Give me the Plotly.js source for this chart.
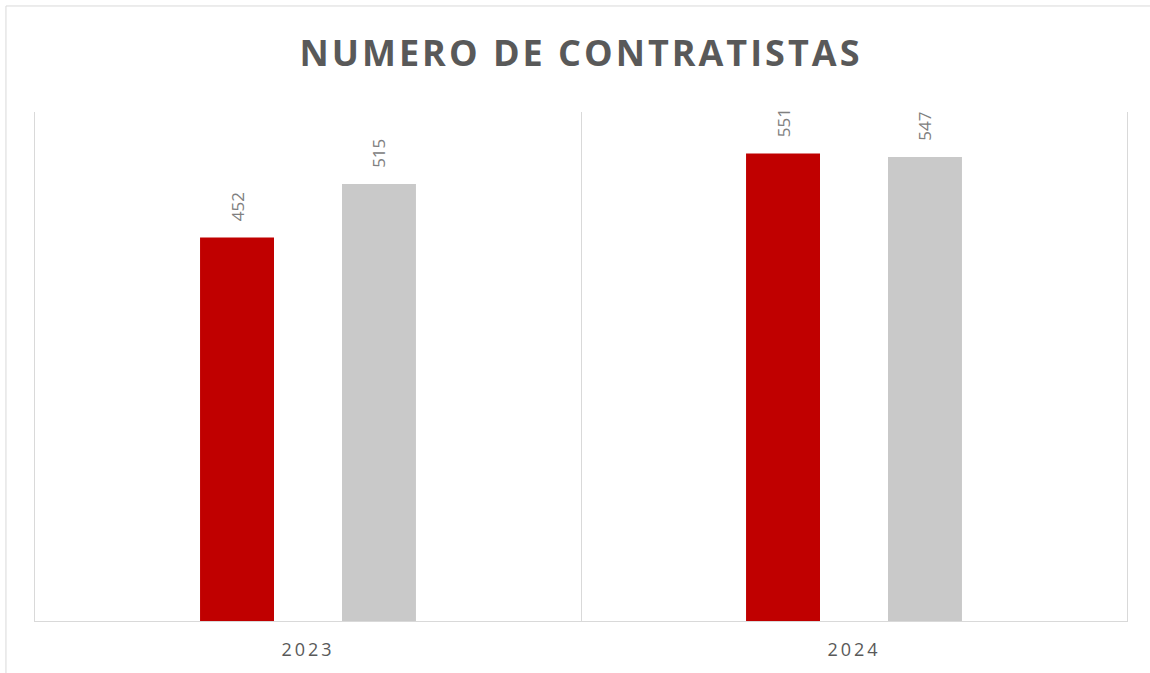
<!DOCTYPE html>
<html>
<head>
<meta charset="utf-8">
<script src="https://cdn.plot.ly/plotly-3.0.1.min.js"></script>
<style>
html,body{margin:0;padding:0;background:#fff;}
#chart{width:1150px;height:673px;}
.gtitle{letter-spacing:3px;}
.xtick text{letter-spacing:3px;}
</style>
</head>
<body>
<div id="chart"></div>
<script>
const categories = ["2023", "2024"];
const seriesA = [452, 551];
const seriesB = [515, 547];
const seriesNames = ["Serie 1", "Serie 2"];
const colors = ["#C00000", "#C9C9C9"];

const pad = "\u00a0\u00a0\u00a0";
function mk(vals, name, color) {
  return {
    type: "bar",
    x: categories,
    y: vals,
    name: name,
    marker: {color: color},
    text: vals.map(v => pad + v),
    textposition: "outside",
    textangle: -90,
    textfont: {family: "Open Sans, sans-serif", size: 17, color: "#808080"},
    cliponaxis: false,
    hoverinfo: "x+y"
  };
}

const data = [mk(seriesA, seriesNames[0], colors[0]), mk(seriesB, seriesNames[1], colors[1])];

const layout = {
  width: 1150, height: 673,
  margin: {l: 35, r: 23, t: 112, b: 52},
  paper_bgcolor: "#fff", plot_bgcolor: "#fff",
  showlegend: false,
  barmode: "group",
  bargap: 0.48,
  bargroupgap: 0.479,
  title: {
    text: "<b>NUMERO DE CONTRATISTAS</b>",
    font: {family: "Open Sans, sans-serif", size: 36, color: "#595959"},
    x: 0.5, xanchor: "center", xref: "paper",
    y: 0.921, yanchor: "middle", yref: "container"
  },
  xaxis: {
    type: "category",
    tickson: "boundaries",
    showgrid: true, gridcolor: "#D9D9D9", gridwidth: 1,
    showline: true, linecolor: "#D9D9D9", linewidth: 1,
    ticks: "", ticklen: 0,
    ticklabelstandoff: 12,
    tickfont: {family: "Open Sans, sans-serif", size: 18, color: "#595959"},
    fixedrange: true
  },
  yaxis: {
    range: [0, 600],
    showgrid: false, zeroline: false,
    showline: true, mirror: true, linecolor: "#D9D9D9", linewidth: 1,
    showticklabels: false, ticks: "",
    fixedrange: true
  },
  shapes: [{
    type: "rect", xref: "paper", yref: "paper",
    x0: -0.0266, x1: 2, y0: -1, y1: 1.2083,
    line: {color: "#D9D9D9", width: 1}, fillcolor: "rgba(0,0,0,0)", layer: "below"
  }]
};

Plotly.newPlot("chart", data, layout, {displayModeBar: false, staticPlot: true});
</script>
</body>
</html>
